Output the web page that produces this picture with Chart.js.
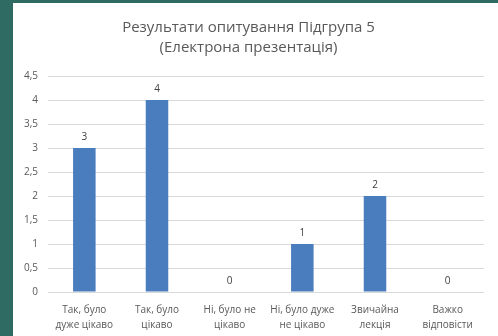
<!DOCTYPE html>
<html>
<head>
<meta charset="utf-8">
<script src="https://cdn.jsdelivr.net/npm/chart.js@4"></script>
<style>
  html, body { margin: 0; padding: 0; }
  body { width: 498px; height: 336px; background: #2f6b62; position: relative; overflow: hidden; }
  #wrap { position: absolute; left: 13px; top: 3px; width: 485px; height: 333px; background: #ffffff; }
</style>
</head>
<body>
<div id="wrap"><canvas id="surveyChart" width="485" height="333"></canvas></div>
<script>
// categories (answers) and number of responses
var answers = [
    ['Так, було', 'дуже цікаво'],
    ['Так, було', 'цікаво'],
    ['Ні, було не', 'цікаво'],
    ['Ні, було дуже', 'не цікаво'],
    ['Звичайна', 'лекція'],
    ['Важко', 'відповісти']
];
var responses = [3, 4, 0, 1, 2, 0];
var titleLines = ['Результати опитування Підгрупа 5', '(Електрона презентація)'];

// draws the value above each bar
var valueLabels = {
    id: 'valueLabels',
    afterDatasetsDraw: function (chart) {
        var ctx = chart.ctx;
        var meta = chart.getDatasetMeta(0);
        ctx.save();
        ctx.font = '10px "Open Sans"';
        ctx.fillStyle = '#404040';
        ctx.textAlign = 'center';
        ctx.textBaseline = 'bottom';
        meta.data.forEach(function (bar, i) {
            ctx.fillText(String(responses[i]), bar.x, bar.y - 6);
        });
        ctx.restore();
    }
};

var ctx = document.getElementById('surveyChart').getContext('2d');
new Chart(ctx, {
    type: 'bar',
    data: {
        labels: answers,
        datasets: [{
            data: responses,
            backgroundColor: '#4a7dbe',
            categoryPercentage: 1,
            barPercentage: 0.31
        }]
    },
    plugins: [valueLabels],
    options: {
        responsive: false,
        animation: false,
        layout: { padding: { left: 0, right: 14, top: 0, bottom: 0 } },
        plugins: {
            legend: { display: false },
            tooltip: { enabled: false },
            title: {
                display: true,
                text: titleLines,
                color: '#595959',
                font: { family: 'Open Sans', size: 15, weight: 'normal', lineHeight: 1.3 },
                padding: { top: 15, bottom: 19 }
            }
        },
        scales: {
            x: {
                grid: { display: false },
                border: { display: false },
                ticks: {
                    color: '#595959',
                    font: { family: 'Open Sans', size: 10, lineHeight: 1.5 },
                    maxRotation: 0,
                    autoSkip: false,
                    padding: 3
                },
                afterFit: function (scale) { scale.height = 44; }
            },
            y: {
                min: 0,
                max: 4.5,
                grid: { color: '#d9d9d9', drawTicks: false },
                border: { display: false },
                ticks: {
                    stepSize: 0.5,
                    color: '#595959',
                    font: { family: 'Open Sans', size: 10 },
                    padding: 10,
                    callback: function (v) { return String(v).replace('.', ','); }
                },
                afterFit: function (scale) { scale.width = 35; }
            }
        }
    }
});
</script>
</body>
</html>
